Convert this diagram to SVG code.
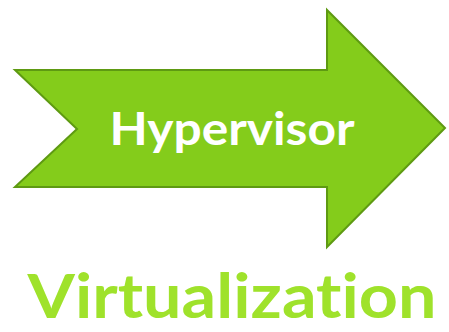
<svg xmlns="http://www.w3.org/2000/svg" width="449" height="332" viewBox="0 0 449 332">
<style>
.arrow{fill:#84cc1b;stroke:#5e9a12;stroke-width:2;stroke-linejoin:miter}
.lbl{font-family:Lato,"Open Sans","Liberation Sans",sans-serif;font-weight:bold;font-variant-ligatures:none;font-feature-settings:"liga" 0}
</style>
<rect width="449" height="332" fill="#ffffff"/>
<g id="hypervisor">
<polygon class="arrow" points="15,70 327,70 327,10 445,128 327,247 327,187 15,187 77,129"/>
<text class="lbl" x="232" y="145" font-size="46" fill="#ffffff" text-anchor="middle" textLength="245" lengthAdjust="spacingAndGlyphs">Hypervisor</text>
</g>
<g id="virtualization">
<text class="lbl" x="232" y="318" font-size="62" fill="#9fe22b" text-anchor="middle" textLength="409" lengthAdjust="spacingAndGlyphs">Virtualization</text>
</g>
<g id="connectors"/>
</svg>
